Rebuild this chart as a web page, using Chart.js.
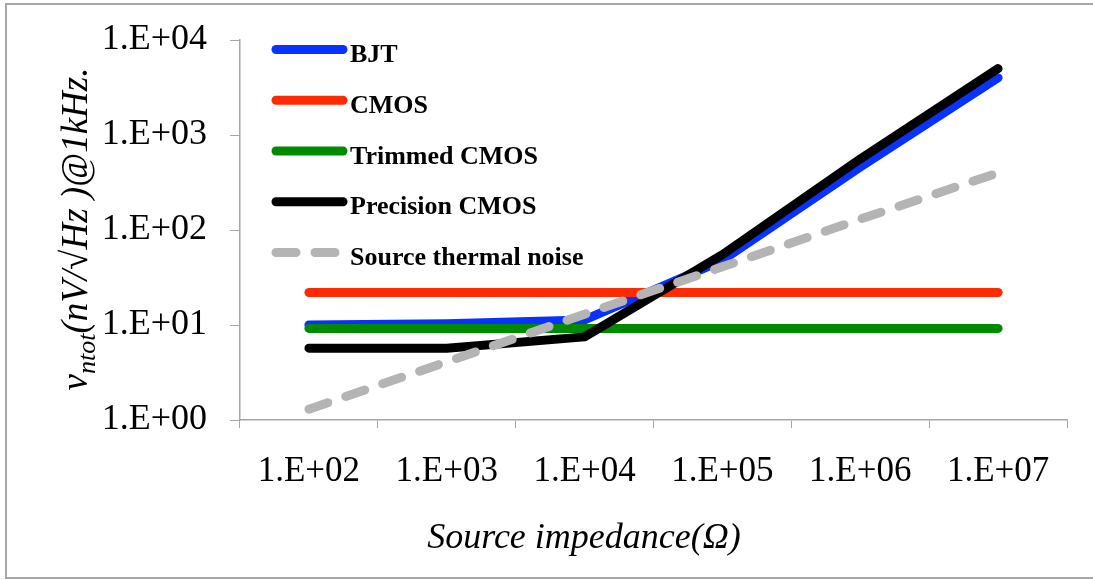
<!DOCTYPE html>
<html>
<head>
<meta charset="utf-8">
<script src="https://cdn.jsdelivr.net/npm/chart.js@4.4.1/dist/chart.umd.min.js"></script>
<style>
  body { margin: 0; background: #fff; overflow: hidden; }
  #wrap { width: 1093px; height: 580px; position: relative; }
</style>
</head>
<body>
<div id="wrap"><canvas id="myChart"></canvas></div>
<script>
var impedances = ['1.E+02', '1.E+03', '1.E+04', '1.E+05', '1.E+06', '1.E+07'];
var bjt = [10, 10.3, 11.3, 48, 460, 4000];
var cmos = [22, 22, 22, 22, 22, 22];
var trimmedCmos = [9.2, 9.2, 9.2, 9.2, 9.2, 9.2];
var precisionCmos = [5.7, 5.7, 7.5, 55, 560, 5000];
var thermalNoise = [1.3, 4.1, 13, 41, 130, 400];
var yTickValues = [1, 10, 100, 1000, 10000];
var yTickLabels = ['1.E+00', '1.E+01', '1.E+02', '1.E+03', '1.E+04'];

var serif = '"Liberation Serif", "Times New Roman", serif';
var axisGray = '#a6a6a6';

function series(label, data, color, dash, order) {
  return {
    label: label,
    data: data,
    borderColor: color,
    backgroundColor: color,
    borderWidth: 9,
    borderDash: dash,
    borderCapStyle: 'round',
    borderJoinStyle: 'round',
    pointRadius: 0,
    tension: 0,
    order: order
  };
}

// legend drawn inside the plot, top left
var insideLegend = {
  id: 'insideLegend',
  afterDatasetsDraw: function(chart) {
    var ctx = chart.ctx;
    var sets = chart.data.datasets;
    ctx.save();
    for (var i = 0; i < sets.length; i++) {
      var y = 49.5 + i * 50.75;
      ctx.beginPath();
      ctx.lineWidth = 9;
      ctx.lineCap = 'round';
      ctx.strokeStyle = sets[i].borderColor;
      ctx.setLineDash(sets[i].borderDash || []);
      ctx.moveTo(276, y);
      ctx.lineTo(343, y);
      ctx.stroke();
      ctx.setLineDash([]);
      ctx.fillStyle = '#000';
      ctx.font = 'bold 26px ' + serif;
      ctx.textAlign = 'left';
      ctx.textBaseline = 'alphabetic';
      ctx.fillText(sets[i].label, 350, y + 12.5);
    }
    ctx.restore();
  }
};

// axis titles (rich y title with subscript) and outer frame (open on the right)
var frameAndTitles = {
  id: 'frameAndTitles',
  afterDraw: function(chart) {
    var ctx = chart.ctx;
    ctx.save();
    ctx.strokeStyle = axisGray;
    ctx.lineWidth = 2;
    ctx.beginPath();
    ctx.moveTo(1093, 4);
    ctx.lineTo(6, 4);
    ctx.lineTo(6, 578);
    ctx.lineTo(1093, 578);
    ctx.stroke();

    ctx.fillStyle = '#000';
    ctx.font = 'italic 36px ' + serif;
    ctx.textAlign = 'center';
    ctx.textBaseline = 'alphabetic';
    ctx.fillText('Source impedance(\u03A9)', 584, 548);

    var parts = [
      { t: 'v', f: 'italic 37px ' + serif, dy: 0 },
      { t: 'ntot', f: 'italic 26px ' + serif, dy: 8 },
      { t: '(nV/\u221AHz )@1kHz.', f: 'italic 37px ' + serif, dy: 0 }
    ];
    var total = 0;
    parts.forEach(function(p) { ctx.font = p.f; p.w = ctx.measureText(p.t).width; total += p.w; });
    ctx.translate(87, 229);
    ctx.rotate(-Math.PI / 2);
    ctx.textAlign = 'left';
    var x = -total / 2;
    parts.forEach(function(p) {
      ctx.font = p.f;
      ctx.fillText(p.t, x, p.dy);
      x += p.w;
    });
    ctx.restore();
  }
};

var ctx = document.getElementById('myChart');

var noiseChart = new Chart(ctx, {
  type: 'line',
  data: {
    labels: impedances,
    datasets: [
      series('BJT', bjt, '#0a32ff', [], 4),
      series('CMOS', cmos, '#ff2a00', [], 3),
      series('Trimmed CMOS', trimmedCmos, '#008a00', [], 2),
      series('Precision CMOS', precisionCmos, '#000000', [], 1),
      series('Source thermal noise', thermalNoise, '#b4b4b4', [20, 19], 0)
    ]
  },
  options: {
    responsive: true,
    maintainAspectRatio: false,
    animation: false,
    layout: {
      padding: { top: 40, right: 26, left: 0, bottom: 0 }
    },
    plugins: {
      legend: { display: false },
      tooltip: { enabled: false },
      title: { display: false }
    },
    scales: {
      x: {
        type: 'category',
        offset: true,
        grid: {
          offset: true,
          drawOnChartArea: false,
          color: axisGray,
          tickLength: 8
        },
        border: { color: axisGray, width: 1.5 },
        ticks: {
          color: '#000',
          font: { family: serif, size: 35 },
          padding: 23,
          maxRotation: 0,
          autoSkip: false
        },
        afterFit: function(scale) { scale.height = 160; }
      },
      y: {
        type: 'logarithmic',
        min: 1,
        max: 10000,
        grid: {
          drawOnChartArea: false,
          color: axisGray,
          tickLength: 10
        },
        border: { color: axisGray, width: 1.5 },
        afterBuildTicks: function(scale) {
          scale.ticks = yTickValues.map(function(v) { return { value: v }; });
        },
        ticks: {
          color: '#000',
          font: { family: serif, size: 36 },
          padding: 23,
          callback: function(value) {
            var i = yTickValues.indexOf(value);
            return i >= 0 ? yTickLabels[i] : '';
          }
        },
        afterFit: function(scale) {
          scale.width = 240;
          scale.paddingTop = 0;
          scale.paddingBottom = 0;
        }
      }
    }
  },
  plugins: [insideLegend, frameAndTitles]
});
</script>
</body>
</html>
